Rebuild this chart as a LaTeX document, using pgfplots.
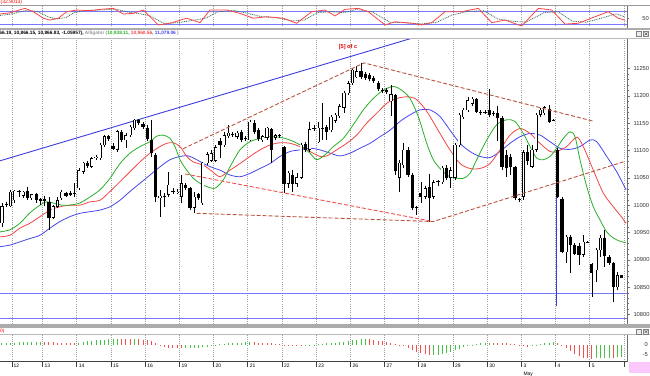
\documentclass[border=0pt]{standalone}
\usepackage{fontspec}
\setmainfont{Liberation Sans}
\usepackage{pgfplots}
\usepackage{pgfplotstable}
\pgfplotsset{compat=1.18}

\definecolor{algG}{RGB}{40,175,40}
\definecolor{algR}{RGB}{240,70,70}
\definecolor{algB}{RGB}{70,70,235}
\definecolor{trendB}{RGB}{60,60,225}
\definecolor{brownD}{RGB}{185,85,65}
\definecolor{redD}{RGB}{240,80,80}
\definecolor{hlineB}{RGB}{120,120,255}
\definecolor{gridG}{RGB}{160,160,160}
\definecolor{panelG}{RGB}{110,110,110}
\definecolor{aoG}{RGB}{70,195,70}
\definecolor{aoR}{RGB}{240,80,80}
\definecolor{stK}{RGB}{250,70,70}
\definecolor{stD}{RGB}{60,110,90}
\definecolor{pinkbox}{RGB}{250,200,250}
\definecolor{hdrgray}{RGB}{150,150,150}

\newcommand{\tk}{\fontsize{5.8}{6.5}\selectfont}
\newcommand{\dt}{\fontsize{5}{5.5}\selectfont}
\newcommand{\hd}{\fontsize{4.8}{5.5}\selectfont\bfseries}

\pgfplotsset{
  daygrid/.style={
    xtick={12,42.5,76.7,110.9,145.1,179.3,213.5,247.7,281.9,316.1,350.3,384.5,418.7,452.9,487.1,521.3,555.5,589.7,623.9},
    xmajorgrids,
    grid style={gridG, line width=0.5bp, dash pattern=on 0.6bp off 1.6bp}},
  panel/.style={scale only axis, anchor=south west, width=627bp, xmin=0, xmax=627,
    scaled y ticks=false, scaled x ticks=false}
}

% hourly candles: bar index, open, high, low, close
\pgfplotstableread{
n o h l c
0 10967 11004 10960 10998
1 11000 11006 10997 11001
2 10998 11028 10997 11024
3 11009 11028 11004 11026
4 11026 11028 11015 11024
5 11017 11026 11013 11024
6 11026 11033 11009 11013
7 11013 11020 11009 11019
8 11020 11022 11004 11009
9 11011 11013 11000 11008
10 11011 11017 10998 11008
11 11006 11015 10955 10977
12 10977 11000 10975 10997
13 10997 11015 10995 11009
14 11013 11028 11009 11024
15 11022 11024 11015 11017
16 11022 11026 11017 11019
17 11022 11040 11015 11021
18 11031 11068 11028 11064
19 11061 11079 11057 11077
20 11077 11081 11068 11072
21 11070 11088 11068 11086
22 11086 11092 11082 11088
23 11086 11114 11082 11110
24 11110 11128 11106 11125
25 11125 11128 11117 11121
26 11108 11114 11101 11104
27 11101 11137 11097 11135
28 11134 11137 11115 11119
29 11119 11132 11104 11128
30 11128 11146 11125 11143
31 11141 11157 11137 11156
32 11156 11157 11146 11150
33 11148 11152 11139 11143
34 11141 11146 11117 11121
35 11119 11156 11088 11095
36 11092 11095 11006 11015
37 11013 11028 10978 11017
38 11017 11022 10997 11015
39 11019 11061 11015 11037
40 11026 11031 11020 11024
41 11022 11030 11020 11024
42 11015 11055 11004 11040
43 11037 11040 11028 11031
44 11031 11033 10991 10995
45 10995 11024 10986 11015
46 11019 11022 11009 11013
47 11004 11079 11000 11077
48 11077 11097 11073 11093
49 11082 11101 11079 11095
50 11082 11110 11079 11106
51 11117 11123 11086 11110
52 11110 11134 11106 11128
53 11126 11146 11123 11132
54 11128 11134 11125 11129
55 11125 11135 11121 11132
56 11134 11137 11115 11119
57 11123 11126 11117 11122
58 11119 11156 11117 11152
59 11150 11156 11130 11134
60 11137 11141 11117 11121
61 11119 11128 11115 11125
62 11123 11143 11119 11141
63 11139 11141 11077 11101
64 11123 11130 11119 11128
65 11126 11130 11123 11127
66 11106 11108 11022 11040
67 11040 11062 11031 11059
68 11055 11064 11024 11040
69 11040 11059 11033 11051
70 11051 11114 11048 11110
71 11112 11115 11097 11101
72 11101 11152 11097 11139
73 11139 11146 11135 11140
74 11115 11152 11114 11141
75 11139 11187 11119 11140
76 11143 11146 11119 11135
77 11137 11165 11134 11161
78 11154 11168 11150 11165
79 11163 11185 11159 11181
80 11178 11209 11168 11205
81 11205 11227 11201 11223
82 11223 11251 11220 11247
83 11234 11254 11232 11245
84 11245 11260 11231 11234
85 11240 11243 11229 11232
86 11238 11242 11227 11231
87 11232 11236 11223 11227
88 11223 11227 11209 11212
89 11210 11214 11205 11209
90 11210 11214 11203 11207
91 11190 11220 11163 11203
92 11200 11203 11055 11062
93 11051 11082 11024 11077
94 11073 11114 11068 11101
95 11101 11106 11051 11055
96 11055 11059 10991 10995
97 10995 10998 10982 10996
98 11022 11042 11004 11015
99 11015 11035 11011 11031
100 11033 11057 10969 11013
101 11015 11046 11011 11042
102 11042 11046 11035 11043
103 11042 11072 11039 11068
104 11068 11073 11046 11051
105 11050 11070 11031 11064
106 11050 11114 11046 11110
107 11110 11168 11106 11165
108 11161 11178 11157 11174
109 11174 11198 11170 11192
110 11185 11198 11181 11194
111 11194 11196 11168 11170
112 11170 11174 11165 11168
113 11170 11174 11167 11169
114 11174 11212 11161 11165
115 11168 11172 11163 11167
116 11168 11181 11117 11159
117 11159 11163 11064 11070
118 11092 11101 11051 11068
119 11088 11093 11055 11070
120 11070 11072 11009 11013
121 11011 11013 11006 11009
122 11015 11101 11009 11097
123 11097 11110 11073 11082
124 11070 11110 11068 11101
125 11101 11168 11097 11165
126 11165 11178 11161 11174
127 11168 11181 11165 11178
128 11176 11183 11150 11152
129 11156 11157 11154 11155
130 11101 11104 11013 11015
131 11011 11015 10912 10914
132 10914 10945 10894 10942
133 10942 10945 10876 10927
134 10927 10931 10909 10912
135 10925 10931 10891 10909
136 10909 10945 10905 10933
137 10933 10934 10931 10932
138 10891 10894 10832 10876
139 10881 10922 10860 10918
140 10918 10945 10905 10940
141 10940 10955 10887 10907
142 10905 10909 10891 10894
143 10894 10896 10823 10850
144 10850 10878 10845 10872
145 10871 10872 10866 10867
}\candles

\pgfplotstableread{
n v
0 0.9
1 1.0
2 1.1
3 1.2
4 1.3
5 1.4
6 1.5
7 1.55
8 1.6
9 1.7
18 1.2
19 1.5
20 1.8
21 2.0
22 2.3
23 2.5
24 2.7
25 2.9
26 3.0
27 3.1
31 3.0
43 -1.5
44 -1.45
45 -1.4
46 -1.3
47 -1.1
48 -0.8
49 -0.4
50 0.2
51 0.4
52 0.6
53 0.8
54 1.0
55 1.1
56 1.2
57 1.3
58 1.4
71 -0.5
72 -0.3
73 0.1
74 0.4
75 0.6
76 0.8
77 1.0
78 1.2
79 1.4
80 1.7
81 2.0
82 2.3
83 2.6
84 2.8
85 2.9
101 -4.9
102 -4.8
103 -4.4
104 -4.0
105 -3.4
106 -2.6
107 -1.8
108 -1.0
109 -0.4
110 0.2
111 0.6
112 0.9
113 1.1
114 1.2
124 -0.4
125 0.1
126 0.4
127 0.8
128 1.2
129 1.5
139 -6.7
140 -6.5
141 -6.4
142 -6.3
144 -6.2
145 -6.0
}\aogreen

\pgfplotstableread{
n v
10 1.6
11 1.4
12 1.3
13 1.2
14 1.1
15 1.05
16 1.0
17 0.95
28 3.0
29 2.9
30 2.85
32 2.9
33 2.7
34 2.3
35 1.8
36 0.8
37 -0.5
38 -1.0
39 -1.3
40 -1.5
41 -1.6
42 -1.7
59 1.3
60 1.2
61 1.1
62 1.0
63 0.8
64 0.5
65 0.3
66 0.1
67 -0.3
68 -0.5
69 -0.6
70 -0.65
86 2.8
87 2.6
88 2.2
89 1.8
90 1.5
91 1.0
92 0.5
93 0.1
94 -0.7
95 -1.5
96 -2.5
97 -3.3
98 -4.0
99 -4.6
100 -5.0
115 1.1
116 1.0
117 0.9
118 0.8
119 0.6
120 0.4
121 0.2
122 -0.5
123 -0.8
130 1.0
131 0.2
132 -1.5
133 -3.0
134 -4.5
135 -5.5
136 -6.3
137 -6.7
138 -6.8
143 -6.5
}\aored

\begin{document}
\begin{tikzpicture}
\path[use as bounding box] (0bp,0bp) rectangle (650bp,376bp);

% ---------------- stochastic panel ----------------
\begin{axis}[panel, at={(0bp,347.7bp)}, height=22.6bp,
  ymin=1, ymax=108.6,
  axis x line*=bottom, x axis line style={draw=none},
  axis y line*=right, y axis line style={panelG},
  daygrid, xticklabels={}, major x tick style={draw=none},
  ytick={50}, yticklabels={}, tick align=outside, major tick length=2bp, y tick style={panelG}]
\addplot[hlineB, line width=1bp] coordinates {(0,80) (627,80)};
\addplot[hlineB, line width=1bp] coordinates {(0,20) (627,20)};
\addplot[stD, line width=0.8bp, dash pattern=on 0.9bp off 0.9bp] coordinates {
(0,62) (12,70) (28,88) (38,80) (48,56) (56,45) (66,52) (74,75) (86,86) (100,88) (116,92) (128,78) (138,72) (150,60) (164,24) (178,28) (192,38) (206,50) (218,80) (234,86) (248,72) (262,56) (276,52) (292,36) (304,40) (318,76) (332,80) (344,75) (356,90) (372,80) (390,30) (404,28) (420,22) (436,28) (452,64) (468,82) (484,84) (498,45) (512,35) (526,30) (544,75) (558,80) (572,35) (586,30) (602,50) (616,70) (625,55)};
\addplot[stK, line width=0.8bp] coordinates {
(0,69) (10,75) (25,96) (33.3,80) (43.3,49) (50,40) (58.3,49) (66.7,80) (76.7,88) (90,85) (100,91) (113.3,96) (123.3,69) (133.3,72) (143.3,88) (158.3,17) (170,25) (186.7,49) (200,28) (210,88) (226.7,88) (240,72) (253.3,49) (266.7,56) (283.3,49) (296.7,25) (311.7,80) (325,88) (335,60) (345,91) (358.3,96) (368.3,80) (385,17) (395,32) (411.7,25) (421.7,17) (431.7,28) (445,80) (461.7,80) (478.3,96) (491.7,28) (505,40) (521.7,12) (538.3,96) (551.7,88) (565,21) (578.3,25) (595,56) (608.3,80) (618.3,49) (625,40)};
\end{axis}

% ---------------- main price panel ----------------
\begin{axis}[panel, at={(0bp,52bp)}, height=285.5bp,
  ymin=10782.7, ymax=11304.6,
  axis x line*=bottom, x axis line style={draw=none},
  axis y line*=right, y axis line style={panelG},
  daygrid, xticklabels={}, major x tick style={draw=none},
  ytick={10800,10850,10900,10950,11000,11050,11100,11150,11200,11250},
  yticklabels={10800,10850,10900,10950,11000,11050,11100,11150,11200,11250},
  yticklabel style={font=\tk, text=black!80},
  minor y tick num=4, tick align=outside, major tick length=3bp, minor tick length=1.5bp,
  y tick style={panelG}]
% support lines
\addplot[hlineB, line width=1bp] coordinates {(0,10838) (627,10838)};
\addplot[hlineB, line width=1bp] coordinates {(0,10793) (627,10793)};
\addplot[trendB, line width=1bp] coordinates {(556.7,11020) (556.7,10816)};
\addplot[trendB, line width=0.9bp] coordinates {(0,11081) (430,11315)};
% alligator
\addplot[algB, line width=0.8bp, smooth] coordinates {
(0,10924) (10,10927) (20,10933) (30,10939) (40,10945) (50,10958) (60,10970) (70,10979) (80,10985) (90,10988) (100,10991) (110,10997) (120,11009) (130,11025) (140,11040) (150,11055) (160,11070) (170,11083) (180,11089) (188.3,11090) (196.7,11083) (206.7,11073) (215,11067) (220,11064) (230,11055) (240,11052) (250,11058) (260,11067) (270,11076) (280,11089) (290,11098) (300,11101) (310,11104) (320,11101) (330,11095) (340,11090) (350,11095) (360,11104) (370,11113) (380,11125) (390,11137) (400,11153) (410,11165) (420,11174) (430,11174) (440,11162) (450,11137) (460,11113) (470,11098) (480,11089) (490,11087) (500,11098) (510,11113) (520,11125) (530,11131) (540,11128) (550,11116) (560,11104) (570,11102) (580,11107) (590,11119) (596.7,11116) (606.7,11089) (616.7,11061) (626,11028)};
\addplot[algR, line width=0.8bp, smooth] coordinates {
(0,10942) (10,10945) (20,10958) (30,10967) (40,10979) (50,10991) (60,10997) (70,11000) (80,11000) (90,11006) (100,11009) (110,11025) (120,11043) (130,11061) (140,11079) (150,11095) (160,11107) (166.7,11113) (173.3,11114) (180,11107) (186.7,11089) (193.3,11079) (203.3,11073) (212,11062) (220,11052) (230,11064) (240,11076) (250,11089) (260,11101) (270,11110) (280,11114) (290,11113) (300,11107) (310,11098) (320,11089) (326.7,11090) (336.7,11101) (346.7,11113) (356.7,11128) (366.7,11150) (376.7,11168) (386.7,11186) (396.7,11195) (406.7,11198) (415,11195) (423.3,11180) (430,11162) (440,11131) (450,11101) (460,11076) (470,11067) (480,11067) (490,11076) (500,11101) (510,11128) (520,11140) (530,11131) (540,11113) (550,11098) (556.7,11098) (566.7,11107) (576.7,11124) (583.3,11107) (593.3,11064) (603.3,11022) (613.3,10997) (620,10982) (626,10967)};
\addplot[algG, line width=0.8bp, smooth] coordinates {
(0,10951) (10,10955) (20,10967) (30,10986) (40,11000) (46.7,11006) (55,11003) (61.7,11000) (70,11000) (80,11004) (90,11015) (100,11028) (110,11049) (120,11076) (130,11095) (140,11107) (150,11116) (156.7,11126) (163.3,11128) (170,11122) (175,11107) (180,11083) (186.7,11064) (193.3,11049) (200,11040) (206.7,11034) (215,11031) (223.3,11046) (230,11070) (240,11101) (250,11116) (260,11122) (270,11125) (280,11124) (290,11119) (300,11110) (310,11095) (316.7,11083) (325,11092) (333.3,11107) (343.3,11122) (353.3,11147) (363.3,11174) (373.3,11195) (383.3,11210) (393.3,11217) (401.7,11210) (410,11195) (418.3,11162) (426.7,11113) (433.3,11083) (440,11067) (446.7,11055) (453.3,11050) (463.3,11049) (470,11058) (476.7,11083) (486.7,11119) (496.7,11147) (506.7,11156) (515,11153) (523.3,11131) (530,11107) (536.7,11086) (543.3,11083) (550,11089) (556.7,11104) (563.3,11122) (570,11134) (575,11125) (580,11083) (586.7,11034) (593.3,10997) (600,10973) (606.7,10951) (613.3,10940) (620,10934) (626,10931)};
% candles drawn as vertical segments: wicks, black bodies, white interiors of rising bars
\addplot[mark=none, black, line width=0.7bp, quiver={u=0, v={\thisrow{l}-\thisrow{h}}}]
  table[x expr=1.9+4.275*\thisrow{n}, y=h] {\candles};
\addplot[mark=none, black, line width=3.2bp, quiver={u=0, v={-abs(\thisrow{o}-\thisrow{c})-1}}]
  table[x expr=1.9+4.275*\thisrow{n}, y expr={max(\thisrow{o},\thisrow{c})+0.5}] {\candles};
\addplot[mark=none, white, line width=1.8bp, quiver={u=0, v={-max(\thisrow{c}-\thisrow{o}-1.6,0)}}]
  table[x expr=1.9+4.275*\thisrow{n}, y expr={\thisrow{c}-0.8}] {\candles};
% wave lines
\addplot[brownD, line width=0.9bp, dash pattern=on 4bp off 2bp] coordinates {(183,11103) (364,11260) (594.3,11153)};
\addplot[redD, line width=0.9bp, dash pattern=on 4bp off 2bp] coordinates {(185,11057) (433.3,10970)};
\addplot[brownD, line width=0.9bp, dash pattern=on 4bp off 2bp] coordinates {(196.7,10985) (433.3,10970) (625,11080)};
\node[text=red!90!black, font=\fontsize{5.6}{6}\selectfont\bfseries, inner sep=0] at (axis cs:348,11289) {[5] of c};
\end{axis}

% ---------------- oscillator panel ----------------
\begin{axis}[panel, at={(0bp,14.5bp)}, height=26.5bp,
  ymin=-8.25, ymax=5, clip=false,
  axis x line*=bottom, x axis line style={black!75, line width=0.8bp},
  axis y line*=right, y axis line style={panelG},
  daygrid, xticklabels={}, minor x tick num=7, tick align=outside,
  major tick length=5bp, minor tick length=2bp, x tick style={black!75, line width=0.5bp},
  ytick=\empty]
\addplot[ycomb, aoG, line width=0.9bp, mark=none] table[x expr=1.9+4.275*\thisrow{n}, y=v] {\aogreen};
\addplot[ycomb, aoR, line width=0.9bp, mark=none] table[x expr=1.9+4.275*\thisrow{n}, y=v] {\aored};
\node[anchor=west, font=\dt, inner sep=0] at (axis cs:13.5,-10.6) {12};
\node[anchor=west, font=\dt, inner sep=0] at (axis cs:44.5,-10.6) {13};
\node[anchor=west, font=\dt, inner sep=0] at (axis cs:78.7,-10.6) {14};
\node[anchor=west, font=\dt, inner sep=0] at (axis cs:112.9,-10.6) {15};
\node[anchor=west, font=\dt, inner sep=0] at (axis cs:147.1,-10.6) {16};
\node[anchor=west, font=\dt, inner sep=0] at (axis cs:181.3,-10.6) {19};
\node[anchor=west, font=\dt, inner sep=0] at (axis cs:215.5,-10.6) {20};
\node[anchor=west, font=\dt, inner sep=0] at (axis cs:249.7,-10.6) {21};
\node[anchor=west, font=\dt, inner sep=0] at (axis cs:283.9,-10.6) {22};
\node[anchor=west, font=\dt, inner sep=0] at (axis cs:318.1,-10.6) {23};
\node[anchor=west, font=\dt, inner sep=0] at (axis cs:352.3,-10.6) {26};
\node[anchor=west, font=\dt, inner sep=0] at (axis cs:386.5,-10.6) {27};
\node[anchor=west, font=\dt, inner sep=0] at (axis cs:420.7,-10.6) {28};
\node[anchor=west, font=\dt, inner sep=0] at (axis cs:454.9,-10.6) {29};
\node[anchor=west, font=\dt, inner sep=0] at (axis cs:489.1,-10.6) {30};
\node[anchor=west, font=\dt, inner sep=0] at (axis cs:523.3,-10.6) {3};
\node[anchor=west, font=\dt, inner sep=0] at (axis cs:557.5,-10.6) {4};
\node[anchor=west, font=\dt, inner sep=0] at (axis cs:591.7,-10.6) {5};
\node[anchor=west, font=\dt, inner sep=0] at (axis cs:523.3,-14.5) {May};
\end{axis}

% ---------------- frame decorations and headers ----------------
\draw[panelG!70, line width=0.8bp] (0bp,370.3bp) -- (650bp,370.3bp);
\fill[gray!65] (0bp,346.3bp) rectangle (650bp,348.2bp);
\draw[gray!55, line width=0.6bp] (0bp,337.6bp) -- (650bp,337.6bp);
\fill[gray!65] (0bp,48.2bp) rectangle (650bp,51.6bp);
\draw[gray!55, line width=0.6bp] (0bp,41.2bp) -- (650bp,41.2bp);
\fill[pinkbox] (629bp,3bp) rectangle (650bp,13.5bp);
\draw[gray, line width=0.4bp, fill=gray!15] (636.5bp,339.8bp) rectangle (641.5bp,344.6bp);
\draw[gray, line width=0.4bp, fill=gray!15] (643.5bp,339.8bp) rectangle (648.5bp,344.6bp);
\draw[black!70, line width=0.4bp] (644.5bp,340.8bp) -- (647.5bp,343.6bp) (644.5bp,343.6bp) -- (647.5bp,340.8bp);
\draw[gray, line width=0.4bp, fill=gray!15] (636.5bp,41.9bp) rectangle (641.5bp,46.7bp);
\draw[gray, line width=0.4bp, fill=gray!15] (643.5bp,41.9bp) rectangle (648.5bp,46.7bp);
\draw[black!70, line width=0.4bp] (644.5bp,42.9bp) -- (647.5bp,45.7bp) (644.5bp,45.7bp) -- (647.5bp,42.9bp);
\node[anchor=west, inner sep=0, text=red, font=\fontsize{5}{5.5}\selectfont] at (0.5bp,373.8bp) {(32.9013)};
\node[anchor=west, inner sep=0, text=red, font=\fontsize{4.8}{5.5}\selectfont] at (0bp,44.6bp) {0)};
\node[anchor=west, inner sep=0, font=\hd] at (-3.5bp,342.6bp) {866.19, 10,866.15, 10,866.83, -1.05957), \textcolor{hdrgray}{Alligator (}\textcolor{algG}{10,938.11,} \textcolor{algR}{10,960.56,} \textcolor{algB}{11,079.06} \textcolor{hdrgray}{)}};
\node[anchor=east, inner sep=0, font=\tk, text=black!80] at (649bp,357.7bp) {50};
\node[anchor=east, inner sep=0, font=\tk, text=black!80] at (648bp,31bp) {0};
\node[anchor=east, inner sep=0, font=\tk, text=black!80] at (648bp,21bp) {-5};
\end{tikzpicture}
\end{document}
